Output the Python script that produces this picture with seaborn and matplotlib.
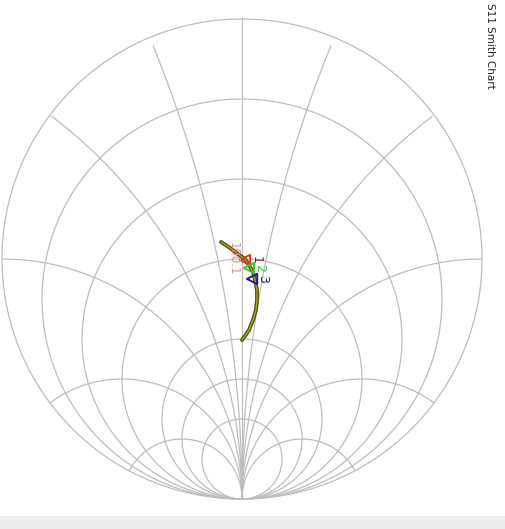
import numpy as np
import pandas as pd
import seaborn as sns
import matplotlib.pyplot as plt
from matplotlib.patches import Rectangle

# S11 trace, reflection coefficient
gamma_re = [-0.071, -0.046, -0.021, 0.0, 0.025, 0.054, 0.0875, 0.129, 0.171, 0.2125, 0.254, 0.296, 0.321, 0.3375]
gamma_im = [-0.0875, -0.05, -0.017, 0.0125, 0.029, 0.046, 0.054, 0.0625, 0.0625, 0.058, 0.046, 0.029, 0.0125, 0.0]

# markers
marker_names = ['1', '2', '3']
marker_re = [0.004, 0.0375, 0.083]
marker_im = [0.0125, 0.029, 0.042]
marker_colors = ['#d0401c', '#3cc43c', '#1a1a8c']
marker_text_colors = ['#8b1a1a', '#3cc43c', '#1a1a8c']
readout_text = '100.1'

# grid values
r_values = [0, 0.2, 0.5, 1, 2, 3, 5]
x_values = [0.2, 0.5, 1, 2, 4]

title = 'S11 Smith Chart'


def to_plot(re, im):
    # chart is drawn turned a quarter turn clockwise
    return np.asarray(im), -np.asarray(re)


sns.set_theme(style='white')
fig = plt.figure(figsize=(5.06, 5.29), dpi=100)
ax = fig.add_axes([0, 0, 1, 1])
ax.set_xlim(-242 / 240, (506 - 242) / 240)
ax.set_ylim((259 - 529) / 240, 259 / 240)
ax.axis('off')

grid_kw = dict(color='#bdbdbd', lw=0.9, zorder=1)
t = np.linspace(0, 2 * np.pi, 800)
for r in r_values:
    c = r / (1 + r)
    rho = 1 / (1 + r)
    px, py = to_plot(c + rho * np.cos(t), rho * np.sin(t))
    ax.plot(px, py, **grid_kw)

for x in x_values:
    for s in (1, -1):
        xc = s * x
        rho = 1 / x
        re = 1 + rho * np.cos(t)
        im = 1 / xc + rho * np.sin(t)
        inside = re ** 2 + im ** 2 <= 1.0005
        re = np.where(inside, re, np.nan)
        im = np.where(inside, im, np.nan)
        # roll so the arc is one piece
        k = np.argmax(~inside)
        re = np.roll(re, -k)
        im = np.roll(im, -k)
        px, py = to_plot(re, im)
        ax.plot(px, py, **grid_kw)

px, py = to_plot([-1, 1], [0, 0])
ax.plot(px, py, **grid_kw)

# trace
tx, ty = to_plot(gamma_re, gamma_im)
trace = pd.DataFrame({'x': tx, 'y': ty})
sns.lineplot(data=trace, x='x', y='y', sort=False, estimator=None, errorbar=None,
             color='#55520f', lw=2.8, ax=ax, zorder=3)
sns.lineplot(data=trace, x='x', y='y', sort=False, estimator=None, errorbar=None,
             color='#a9a832', lw=0.9, ax=ax, zorder=3)

mx, my = to_plot(marker_re, marker_im)
for i in range(len(marker_names)):
    ax.scatter(mx[i], my[i], marker='<', s=55, facecolor='none',
               edgecolor=marker_colors[i], lw=1.4, zorder=4)
    ax.text(mx[i] + 0.045, my[i], marker_names[i], rotation=-90, color=marker_text_colors[i],
            fontsize=9, ha='center', va='center', zorder=5)
ax.text(mx[0] - 0.05, my[0] + 0.005, readout_text, rotation=-90, color='#e08a8a',
        fontsize=8.5, ha='center', va='center', zorder=5)

fig.text(490 / 506, 1 - 46 / 529, title, rotation=-90, fontsize=7.5, ha='center', va='center',
         color='#222222')

fig.patches.append(Rectangle((0, 0), 1, 13 / 529, transform=fig.transFigure,
                             facecolor='#ededed', edgecolor='none', zorder=0))

fig.savefig('out.png', dpi=100)
